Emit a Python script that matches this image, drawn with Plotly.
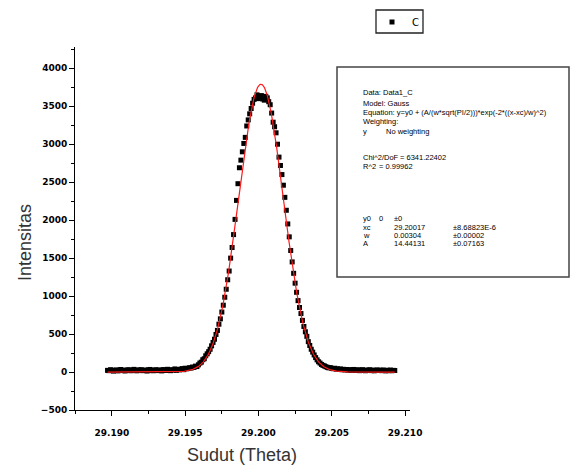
import numpy as np
import plotly.graph_objects as go

# Scan grid (2-theta step scan) and measured intensities for sample C
scan_start = 29.1897
scan_step = 0.0001

intensity_c = [
    22, 18, 30, 25, 12, 20, 28, 15, 24, 33, 19, 26, 14, 21, 30, 27, 17, 23, 35, 20,
    16, 28, 24, 31, 18, 22, 26, 13, 29, 34, 21, 17, 25, 30, 19, 27, 23, 15, 32, 28,
    20, 36, 24, 18, 30, 26, 41, 22, 33, 28, 38, 45, 31, 50, 42, 48, 57, 52, 66, 61,
    78, 72, 95, 118, 130, 162, 175, 214, 240, 268,
    300, 345, 390, 432, 495, 548, 630, 700, 790, 880,
    985, 1090, 1215, 1330, 1500, 1640, 1810, 2010, 2260, 2480,
    2690, 2790, 2900, 3010, 3090, 3240, 3320, 3400, 3470, 3540,
    3590, 3610, 3650, 3600, 3625, 3640, 3595, 3580, 3630, 3610, 3560, 3520, 3410,
    3290, 3230, 3150, 3000, 2830, 2720, 2600, 2460, 2300, 2130,
    1950, 1780, 1600, 1450, 1300, 1170, 1050, 940, 850, 770,
    680, 600, 530, 470, 400, 350, 300, 262, 225, 190,
    160, 135, 118, 100, 88, 80, 70, 62,
    55, 58, 48, 44, 50, 38, 42, 35, 40, 30, 36, 28, 33, 25, 31, 22, 27, 34, 20, 26,
    29, 18, 24, 31, 21, 17, 26, 23, 30, 19, 25, 16, 22, 28, 20, 24, 18, 27, 21, 15,
    23, 19, 26, 17, 22, 20,
]

# Gauss fit results
fit_y0 = 0.0
fit_xc = 29.20017
fit_w = 0.00304
fit_A = 14.44131

x_tick_vals = [29.190, 29.195, 29.200, 29.205, 29.210]
x_tick_text = ["29.190", "29.195", "29.200", "29.205", "29.210"]
y_tick_vals = [-500, 0, 500, 1000, 1500, 2000, 2500, 3000, 3500, 4000]

series_name = "C"

# fit report: (text, left edge px, centre line px)
fit_lines = [
    ("Data: Data1_C", 362, 93),
    ("Model: Gauss", 362, 103),
    ("Equation: y=y0 + (A/(w*sqrt(PI/2)))*exp(-2*((x-xc)/w)^2)", 362, 113),
    ("Weighting:", 362, 122),
    ("y", 362, 131), ("No weighting", 385, 131),
    ("Chi^2/DoF", 362, 157), ("= 6341.22402", 399, 157),
    ("R^2", 362, 166), ("= 0.99962", 378, 166),
    ("y0", 362, 218), ("0", 378, 218), ("\u00b10", 393, 218),
    ("xc", 362, 227), ("29.20017", 393, 227), ("\u00b18.68823E-6", 452, 227),
    ("w", 362, 235), ("0.00304", 393, 235), ("\u00b10.00002", 452, 235),
    ("A", 362, 243), ("14.44131", 393, 243), ("\u00b10.07163", 452, 243),
]

W, H = 577, 468
ML, MR, MT, MB = 75, 167, 47, 58
PW, PH = W - ML - MR, H - MT - MB


def px(xp):
    return (xp - ML) / PW


def py(yp):
    return (H - MB - yp) / PH


theta = scan_start + scan_step * np.arange(len(intensity_c))

xf = np.linspace(theta[0], theta[-1], 800)
yf = fit_y0 + fit_A / (fit_w * np.sqrt(np.pi / 2)) * np.exp(-2 * ((xf - fit_xc) / fit_w) ** 2)

fig = go.Figure()
fig.add_trace(go.Scatter(
    x=theta, y=intensity_c, mode="markers", name=series_name, showlegend=False,
    marker=dict(symbol="square", size=5, color="black", line=dict(width=0)),
))
fig.add_trace(go.Scatter(
    x=xf, y=yf, mode="lines", showlegend=False,
    line=dict(color="#ff1a1a", width=1.2),
))

tick_font = dict(family="DejaVu Sans", size=9, color="black", weight="bold")

fig.update_layout(
    width=W, height=H, autosize=False,
    margin=dict(l=ML, r=MR, t=MT, b=MB, pad=0),
    paper_bgcolor="white", plot_bgcolor="white",
    showlegend=False,
    xaxis=dict(
        range=[29.18748, 29.21034], tickvals=x_tick_vals, ticktext=x_tick_text,
        showline=True, linecolor="black", linewidth=1, mirror=False,
        ticks="outside", ticklen=5, tickwidth=1, tickcolor="black",
        ticklabelstandoff=9,
        minor=dict(dtick=0.0025, tick0=29.19, ticks="outside", ticklen=3, tickcolor="black"),
        showgrid=False, zeroline=False, tickfont=tick_font,
    ),
    yaxis=dict(
        range=[-500, 4280], tickvals=y_tick_vals,
        showline=True, linecolor="black", linewidth=1, mirror=False,
        ticks="outside", ticklen=5, tickwidth=1, tickcolor="black",
        minor=dict(dtick=250, tick0=0, ticks="outside", ticklen=3, tickcolor="black"),
        showgrid=False, zeroline=False, tickfont=tick_font,
    ),
)

annotations = [
    dict(text="Sudut (Theta)", x=px(242), y=py(455), xref="paper", yref="paper",
         showarrow=False, xanchor="center", yanchor="middle",
         font=dict(family="Liberation Sans", size=18, color="#333333")),
    dict(text="Intensitas", x=px(25), y=py(243), xref="paper", yref="paper",
         showarrow=False, xanchor="center", yanchor="middle", textangle=-90,
         font=dict(family="Liberation Sans", size=18, color="#333333")),
    # legend entry label
    dict(text=series_name, x=px(415), y=py(22), xref="paper", yref="paper",
         showarrow=False, xanchor="center", yanchor="middle",
         font=dict(family="DejaVu Sans", size=10, color="black")),
]
for txt, xp, yp in fit_lines:
    annotations.append(dict(
        text=txt, x=px(xp), y=py(yp), xref="paper", yref="paper",
        showarrow=False, xanchor="left", yanchor="middle",
        borderpad=0, font=dict(family="Liberation Sans", size=7.5, color="black"),
    ))
fig.update_layout(annotations=annotations)

# legend frame and its square symbol
fig.add_shape(type="rect", xref="paper", yref="paper",
              x0=px(376), x1=px(423), y0=py(33), y1=py(10),
              line=dict(color="#222222", width=1.3), fillcolor="white")
fig.add_shape(type="rect", xref="paper", yref="paper",
              x0=px(389.5), x1=px(394.5), y0=py(24.5), y1=py(19.5),
              line=dict(width=0), fillcolor="black")

# fit report frame
fig.add_shape(type="rect", xref="paper", yref="paper",
              x0=px(337), x1=px(569), y0=py(277), y1=py(67),
              line=dict(color="#444444", width=1.5), fillcolor="rgba(0,0,0,0)")

fig.write_html("out.html")
